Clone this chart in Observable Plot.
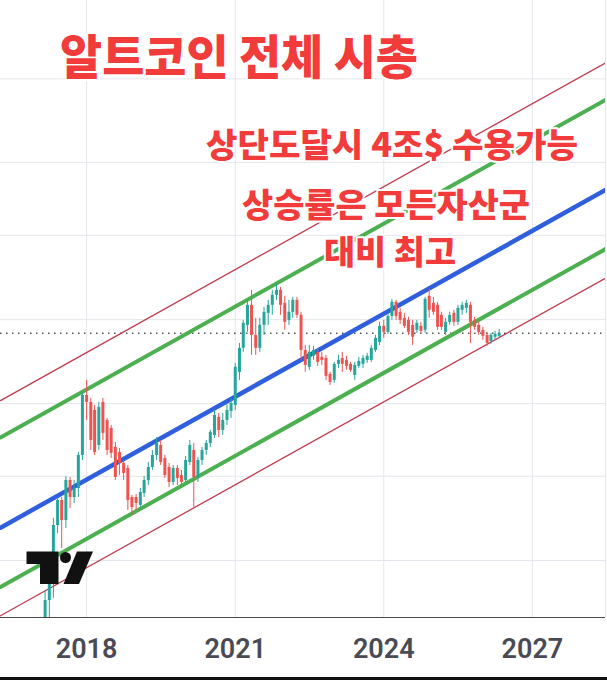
<!DOCTYPE html>
<html>
<head>
<meta charset="utf-8">
<script src="https://cdn.jsdelivr.net/npm/d3@7"></script>
<script src="https://cdn.jsdelivr.net/npm/@observablehq/plot@0.6"></script>
<style>
  html, body { margin: 0; padding: 0; background: #fff; }
  #chart svg { display: block; }
  #chart g[aria-label="x-axis tick label"] { font-size: 27px; font-weight: 600; fill: #4a4a55; font-family: Roboto, "Noto Sans", sans-serif; }
</style>
</head>
<body>
<div id="chart"></div>
<script>
// Monthly candles, altcoin total market cap (billions of USD)
const months = [
  "2017-03","2017-04","2017-05","2017-06","2017-07","2017-08","2017-09","2017-10","2017-11","2017-12",
  "2018-01","2018-02","2018-03","2018-04","2018-05","2018-06","2018-07","2018-08","2018-09","2018-10","2018-11","2018-12",
  "2019-01","2019-02","2019-03","2019-04","2019-05","2019-06","2019-07","2019-08","2019-09","2019-10","2019-11","2019-12",
  "2020-01","2020-02","2020-03","2020-04","2020-05","2020-06","2020-07","2020-08","2020-09","2020-10","2020-11","2020-12",
  "2021-01","2021-02","2021-03","2021-04","2021-05","2021-06","2021-07","2021-08","2021-09","2021-10","2021-11","2021-12",
  "2022-01","2022-02","2022-03","2022-04","2022-05","2022-06","2022-07","2022-08","2022-09","2022-10","2022-11","2022-12",
  "2023-01","2023-02","2023-03","2023-04","2023-05","2023-06","2023-07","2023-08","2023-09","2023-10","2023-11","2023-12",
  "2024-01","2024-02","2024-03","2024-04","2024-05","2024-06","2024-07","2024-08","2024-09","2024-10","2024-11","2024-12",
  "2025-01","2025-02","2025-03","2025-04","2025-05","2025-06","2025-07","2025-08","2025-09","2025-10","2025-11","2025-12",
  "2026-01","2026-02","2026-03","2026-04","2026-05"
];
const opens = [
  103.6,144,177,266.8,327.7,278,386.3,335.9,361.7,474.6,
  777.6,734.1,687.3,515.3,734.1,633,592.7,506.9,486.5,444.4,426.5,335.9,
  335.9,314.5,347.2,386.3,430,474.6,515.3,463.1,430,380.1,426.5,402.6,
  386.3,448,494.5,396,455.5,494.5,523.9,559.5,648.8,583,633,681.7,
  716.2,939.6,1145,1383,1631,1274,1145,1383,1527,1631,1771,1845,
  1658,1441,1540,1699,1502,1126,979.2,1072,1108,1063,1054,924.3,
  879.8,1004,1054,1037,1004,916.7,987.3,1004,1037,1037,1126,1202,
  1372,1306,1489,1672,1540,1465,1441,1383,1328,1372,1328,1756,
  1658,1631,1502,1306,1418,1527,1418,1565,1591,1631,1441,1383,
  1328,1274,1212,1254,1264
];
const highs = [
  156.4,184.4,282.6,335.9,335.9,399.2,396,386.3,486.5,797,
  879.8,758.7,716.2,734.1,758.7,643.5,607.5,528.2,502.7,455.5,437.1,341.5,
  344.3,361.7,399.2,448,494.5,550.4,537,474.6,444.4,437.1,437.1,419.5,
  470.8,537,523.9,466.9,506.9,537,583,687.3,670.6,670.6,728.1,758.7,
  1012,1192,1441,1699,1845,1465,1465,1604,1699,1845,1938,1891,
  1756,1699,1741,1741,1540,1173,1173,1164,1145,1108,1081,939.6,
  1020,1081,1108,1072,1020,1020,1063,1081,1099,1173,1274,1418,
  1441,1527,1713,1699,1591,1527,1477,1441,1441,1418,1741,1860,
  1741,1672,1540,1465,1540,1565,1631,1672,1699,1672,1477,1418,
  1361,1306,1295,1317,1339
];
const lows = [
  95.4,117.2,146.4,249.8,220.8,260.2,306.9,319.7,335.9,455.5,
  633,494.5,474.6,494.5,537,474.6,463.1,386.3,402.6,386.3,301.9,289.7,
  301.9,306.9,335.9,370.8,419.5,455.5,437.1,392.7,364.7,370.8,370.8,370.8,
  377,437.1,309.4,380.1,437.1,474.6,506.9,545.9,550.4,559.5,607.5,643.5,
  687.3,879.8,1108,1306,1081,1081,1108,1274,1383,1502,1699,1502,
  1328,1383,1465,1465,1037,939.6,955.3,1037,987.3,995.4,879.8,844.3,
  858.3,971.2,939.6,955.3,939.6,879.8,971.2,971.2,1012,1020,1108,1173,
  1243,1285,1441,1441,1394,1350,1274,1173,1295,1295,1295,1465,
  1502,1328,1328,1274,1383,1372,1383,1502,1527,1192,1328,1274,
  1223,1164,1183,1223,1243
];
const closes = [
  144,177,266.8,327.7,278,386.3,335.9,361.7,474.6,777.6,
  734.1,537,486.5,704.5,568.8,494.5,482.5,396,444.4,409.3,327.7,309.4,
  319.7,350,386.3,430,474.6,523.9,448,402.6,380.1,426.5,392.7,380.1,
  455.5,515.3,396,455.5,494.5,523.9,573.5,659.6,583,633,687.3,728.1,
  979.2,1145,1406,1631,1274,1145,1383,1540,1631,1771,1845,1631,
  1418,1540,1699,1502,1126,995.4,1108,1126,1020,1037,909.3,865.4,
  1004,1037,1004,987.3,955.3,995.4,1029,1054,1072,1145,1243,1372,
  1306,1489,1672,1489,1441,1372,1306,1254,1406,1317,1713,1565,
  1540,1361,1361,1418,1502,1418,1591,1631,1658,1418,1361,1306,
  1264,1192,1274,1285,1295
];

// Parallel trend channel: value at the left and right end of the time window
const channelDates = ["2016-04-06", "2028-06-23"];
const upperOuter = [745, 11970];
const upperInner = [550, 8830];
const midline   = [262, 4210];
const lowerInner = [161, 2590];
const lowerOuter = [127, 2040];

// Axis ticks and grid levels
const yearTicks = ["2018", "2021", "2024", "2027"];
const gridLevels = [200, 400, 727, 1450, 2900, 5280, 10500];
const timeWindow = ["2016-04-06", "2028-06-23"];
const valueWindow = [125.2, 20000];

const UP = "#26a69a", DOWN = "#ef5350";

const candles = months.map((m, i) => ({
  date: new Date(m + "-01"),
  open: opens[i], high: highs[i], low: lows[i], close: closes[i]
}));
const channel = (vals) => channelDates.map((d, i) => ({date: new Date(d), value: vals[i]}));
const lastClose = closes[closes.length - 1];
const years = yearTicks.map(y => new Date(y + "-01-01"));

const chart = Plot.plot({
  width: 607,
  height: 680,
  marginTop: 0,
  marginRight: 2,
  marginBottom: 63,
  marginLeft: 0,
  style: {background: "#fff", fontFamily: "Roboto, sans-serif"},
  x: {type: "utc", domain: timeWindow.map(d => new Date(d))},
  y: {type: "log", domain: valueWindow, axis: null},
  marks: [
    Plot.ruleY(gridLevels, {stroke: "#e3e6ec", strokeWidth: 1}),
    Plot.ruleX(years, {stroke: "#e3e6ec", strokeWidth: 1}),
    Plot.ruleX([new Date(timeWindow[1])], {stroke: "#e3e6ec", strokeWidth: 1}),
    Plot.ruleY([lastClose], {stroke: "#555", strokeWidth: 1.5, strokeDasharray: "1.5,4.5"}),
    Plot.line(channel(upperOuter), {x: "date", y: "value", stroke: "#bf3a4e", strokeWidth: 1.3, clip: true}),
    Plot.line(channel(lowerOuter), {x: "date", y: "value", stroke: "#bf3a4e", strokeWidth: 1.3, clip: true}),
    Plot.line(channel(upperInner), {x: "date", y: "value", stroke: "#4caf50", strokeWidth: 4, clip: true}),
    Plot.line(channel(lowerInner), {x: "date", y: "value", stroke: "#4caf50", strokeWidth: 4, clip: true}),
    Plot.line(channel(midline), {x: "date", y: "value", stroke: "#2f5fdc", strokeWidth: 4.5, clip: true}),
    Plot.ruleX(candles, {x: "date", y1: "low", y2: "high", stroke: d => d.close >= d.open ? UP : DOWN, strokeWidth: 1, clip: true}),
    Plot.ruleX(candles, {x: "date", y1: "open", y2: "close", stroke: d => d.close >= d.open ? UP : DOWN, strokeWidth: 3, clip: true}),
    Plot.ruleY([valueWindow[0]], {stroke: "#4a4a4a", strokeWidth: 1.2}),
    Plot.axisX(years, {tickSize: 0, tickPadding: 21, tickFormat: d3.utcFormat("%Y")})
  ]
});

document.getElementById("chart").appendChild(chart);

const svg = d3.select(chart);

// TradingView mark, bottom left
const logo = svg.append("g").attr("fill", "#111");
logo.append("path").attr("d", "M26.5,551.5H58.5V584H40V564H26.5Z");
logo.append("circle").attr("cx", 65.5).attr("cy", 557.5).attr("r", 5.5);
logo.append("path").attr("d", "M77,551.5H93L79,584H63.5Z");

// Annotations
const notes = [
  {text: "알트코인 전체 시총", x: 60, y: 74, size: 47, len: 358, anchor: "start"},
  {text: "상단도달시 4조$ 수용가능", x: 392, y: 157, size: 33, len: 372, anchor: "middle"},
  {text: "상승률은 모든자산군", x: 386, y: 217, size: 33, len: 288, anchor: "middle"},
  {text: "대비 최고", x: 390, y: 264, size: 33, len: 132, anchor: "middle"}
];
svg.append("g")
  .selectAll("text")
  .data(notes)
  .join("text")
  .attr("x", d => d.x)
  .attr("y", d => d.y)
  .attr("text-anchor", d => d.anchor)
  .attr("textLength", d => d.len)
  .attr("lengthAdjust", "spacingAndGlyphs")
  .attr("font-family", "'Noto Sans CJK KR', sans-serif")
  .attr("font-weight", 900)
  .attr("font-size", d => d.size)
  .attr("fill", "#f23b3b")
  .attr("stroke", "#fff")
  .attr("stroke-width", 4)
  .attr("stroke-linejoin", "round")
  .attr("paint-order", "stroke")
  .text(d => d.text);

// bottom edge
svg.append("rect").attr("x", 0).attr("y", 677).attr("width", 607).attr("height", 3).attr("fill", "#111");
</script>
</body>
</html>
